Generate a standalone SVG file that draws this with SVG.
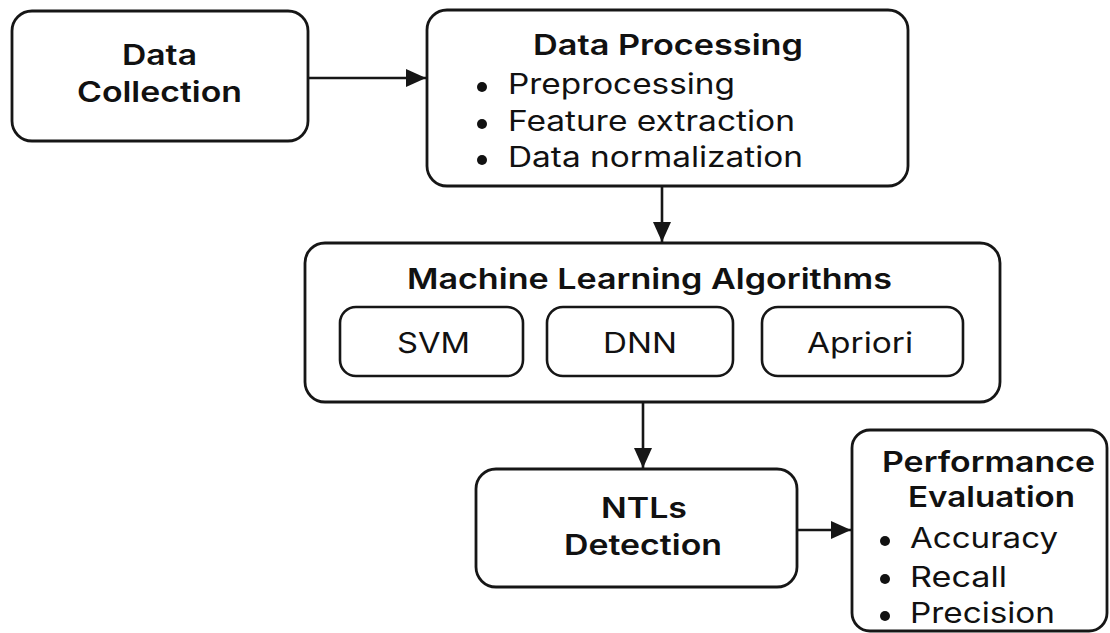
<svg xmlns="http://www.w3.org/2000/svg" width="1110" height="633" viewBox="0 0 1110 633">
  <defs>
    <style>
      .box { fill: #ffffff; stroke: #161616; stroke-width: 2.8; }
      .inner { fill: #ffffff; stroke: #161616; stroke-width: 2.6; }
      .title { font-family: Inter, "Liberation Sans", sans-serif; font-weight: 600; font-size: 28px; fill: #111111; }
      .item { font-family: Inter, "Liberation Sans", sans-serif; font-weight: 400; font-size: 28px; fill: #111111; }
      .conn { stroke: #161616; stroke-width: 2.6; fill: none; }
      .dot { fill: #111111; }
    </style>
    <marker id="arrow" markerUnits="userSpaceOnUse" markerWidth="21" markerHeight="18" refX="20" refY="9" orient="auto">
      <path d="M0,0 L20,9 L0,18 Z" fill="#161616"/>
    </marker>
  </defs>
  <rect width="1110" height="633" fill="#ffffff"/>

  <g id="connectors">
    <line class="conn" x1="308" y1="78" x2="426" y2="78" marker-end="url(#arrow)"/>
    <line class="conn" x1="662" y1="187" x2="662" y2="242" marker-end="url(#arrow)"/>
    <line class="conn" x1="643" y1="402" x2="643" y2="468" marker-end="url(#arrow)"/>
    <line class="conn" x1="797" y1="530" x2="851" y2="530" marker-end="url(#arrow)"/>
  </g>

  <g id="data-collection">
    <rect class="box" x="12" y="11" width="296" height="130" rx="20"/>
    <text class="title" x="122" y="65" textLength="75" lengthAdjust="spacingAndGlyphs">Data</text>
    <text class="title" x="77" y="102" textLength="165" lengthAdjust="spacingAndGlyphs">Collection</text>
  </g>

  <g id="data-processing">
    <rect class="box" x="427" y="10" width="481" height="176" rx="20"/>
    <text class="title" x="533" y="55" textLength="270" lengthAdjust="spacingAndGlyphs">Data Processing</text>
    <circle class="dot" cx="482" cy="87" r="5"/>
    <circle class="dot" cx="482" cy="124" r="5"/>
    <circle class="dot" cx="482" cy="160" r="5"/>
    <text class="item" x="508" y="94" textLength="227" lengthAdjust="spacingAndGlyphs">Preprocessing</text>
    <text class="item" x="508" y="131" textLength="287" lengthAdjust="spacingAndGlyphs">Feature extraction</text>
    <text class="item" x="508" y="167" textLength="295" lengthAdjust="spacingAndGlyphs">Data normalization</text>
  </g>

  <g id="ml-algorithms">
    <rect class="box" x="305" y="243" width="695" height="159" rx="20"/>
    <text class="title" x="407" y="289" textLength="485" lengthAdjust="spacingAndGlyphs">Machine Learning Algorithms</text>
  </g>

  <g id="svm">
    <rect class="inner" x="340" y="307" width="183" height="69" rx="16"/>
    <text class="item" x="397" y="353" textLength="73" lengthAdjust="spacingAndGlyphs">SVM</text>
  </g>

  <g id="dnn">
    <rect class="inner" x="547" y="307" width="186" height="69" rx="16"/>
    <text class="item" x="603" y="353" textLength="74" lengthAdjust="spacingAndGlyphs">DNN</text>
  </g>

  <g id="apriori">
    <rect class="inner" x="762" y="307" width="201" height="69" rx="16"/>
    <text class="item" x="807" y="353" textLength="106" lengthAdjust="spacingAndGlyphs">Apriori</text>
  </g>

  <g id="ntls-detection">
    <rect class="box" x="476" y="469" width="321" height="118" rx="20"/>
    <text class="title" x="601" y="518" textLength="86" lengthAdjust="spacingAndGlyphs">NTLs</text>
    <text class="title" x="564" y="555" textLength="158" lengthAdjust="spacingAndGlyphs">Detection</text>
  </g>

  <g id="performance-evaluation">
    <rect class="box" x="852" y="430" width="255" height="201" rx="18"/>
    <text class="title" x="882" y="472" textLength="213" lengthAdjust="spacingAndGlyphs">Performance</text>
    <text class="title" x="908" y="507" textLength="167" lengthAdjust="spacingAndGlyphs">Evaluation</text>
    <circle class="dot" cx="885" cy="541" r="5"/>
    <circle class="dot" cx="885" cy="579" r="5"/>
    <circle class="dot" cx="885" cy="616" r="5"/>
    <text class="item" x="910" y="548" textLength="148" lengthAdjust="spacingAndGlyphs">Accuracy</text>
    <text class="item" x="910" y="587" textLength="97" lengthAdjust="spacingAndGlyphs">Recall</text>
    <text class="item" x="910" y="623" textLength="145" lengthAdjust="spacingAndGlyphs">Precision</text>
  </g>
</svg>
